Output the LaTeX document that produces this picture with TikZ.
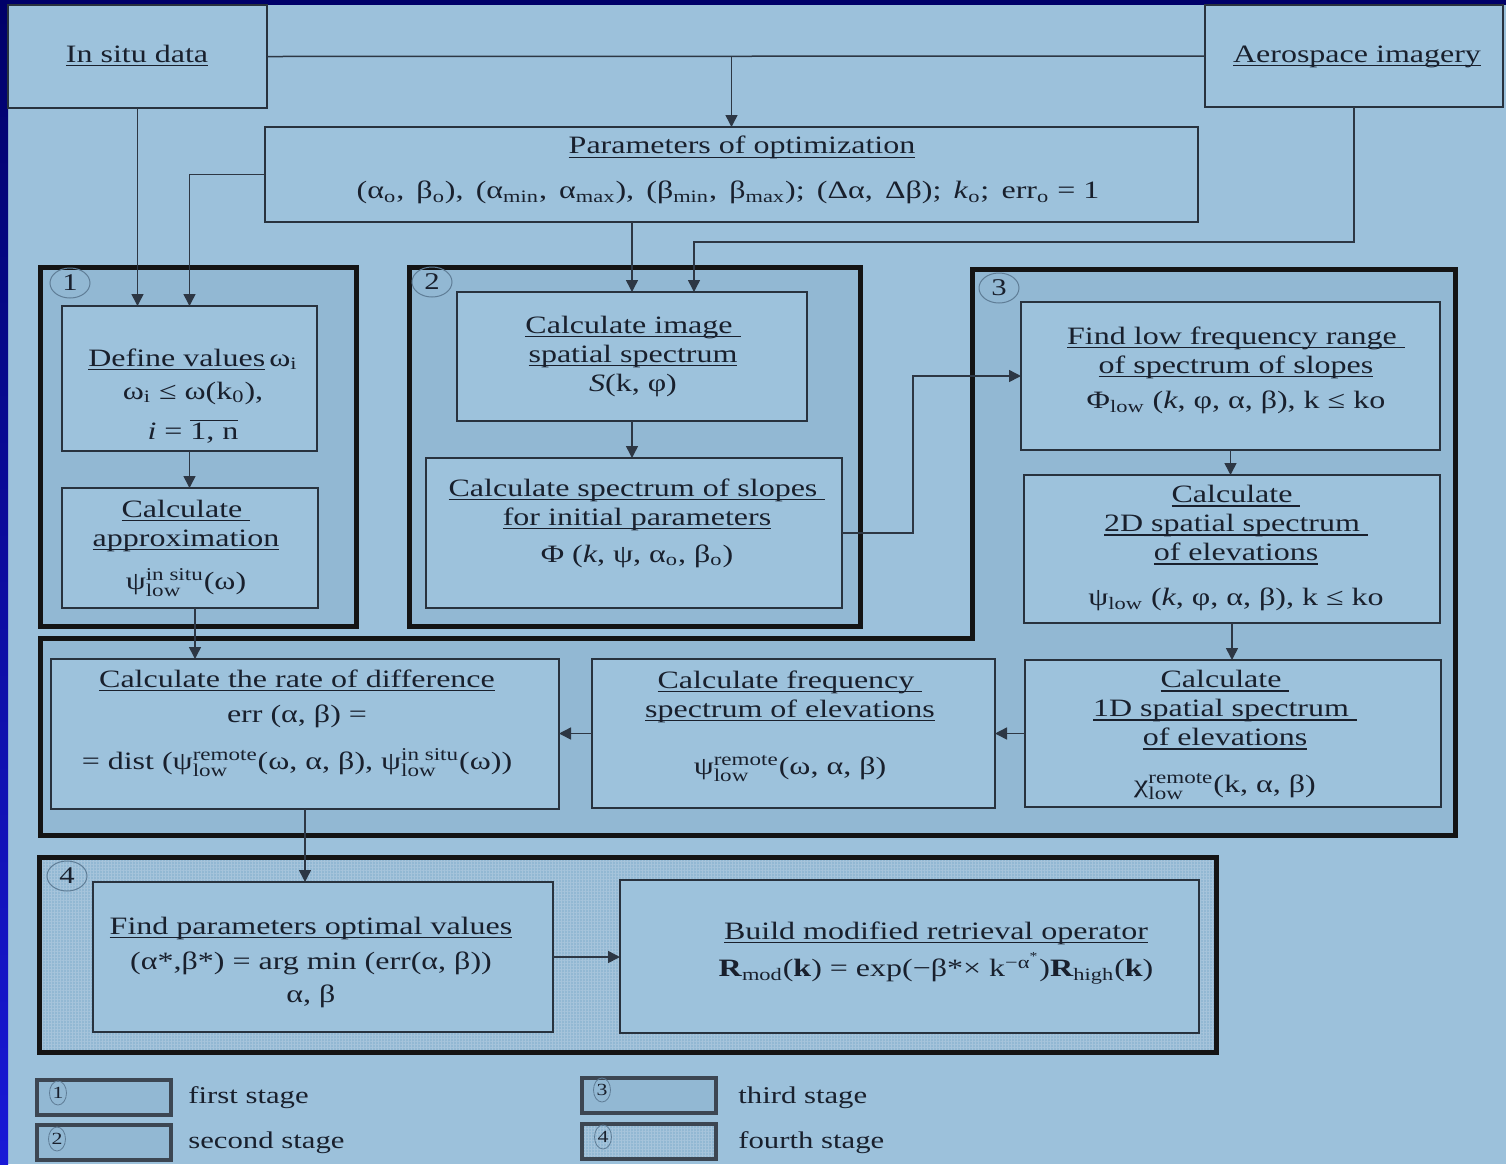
\documentclass[tikz,border=0pt]{standalone}
\usepackage{fontspec}
\setmainfont{Liberation Serif}[FakeStretch=1.28]
\usetikzlibrary{arrows.meta,shapes.geometric,patterns.meta}
\definecolor{bgblue}{RGB}{156,193,219}
\definecolor{stagefill}{RGB}{146,184,211}
\definecolor{boxfill}{RGB}{157,194,220}
\definecolor{boxline}{RGB}{40,50,62}
\definecolor{conncol}{RGB}{45,55,68}
\definecolor{txtcol}{RGB}{25,32,45}
\definecolor{navy}{RGB}{0,0,105}
\definecolor{brightblue}{RGB}{25,25,215}
\definecolor{circcol}{RGB}{95,125,150}
\definecolor{legline}{RGB}{60,70,82}
\definecolor{hatchcol}{RGB}{166,196,219}
\newcommand\SupSub[2]{$^{\hbox{\fontsize{9}{9}\selectfont #1}}_{\hbox{\fontsize{9}{9}\selectfont #2}}$}
\newcommand\sub[1]{\textsubscript{#1}}
\newcommand\UL[1]{\setbox0\hbox{#1}\rlap{\rule[-2pt]{\wd0}{0.55pt}}\box0}
\newcommand\BOX[6][]{\node[box,#1,minimum width={(#5-#3)*0.5pt},minimum height={(#6-#4)*0.5pt}] (#2) at ({(#3+#5)/2},{(#4+#6)/2}) {};}
\tikzset{
  box/.style={rectangle,draw=boxline,line width=0.7pt,fill=boxfill,inner sep=0pt,outer sep=0pt},
  stagebox/.style={draw=black!92,line width=2.5pt,fill=stagefill},
  txt/.style={text=txtcol,align=center,inner sep=0pt,font=\fontsize{12.5}{14.5}\selectfont},
  legtxt/.style={text=txtcol,inner sep=0pt,font=\fontsize{12}{14}\selectfont},
  connline/.style={draw=conncol,line width=0.75pt},
  arr/.style={connline,-{Triangle[length=6pt,width=6pt]}},
  stagelabel/.style={ellipse,draw=circcol,line width=0.5pt,minimum width=20pt,minimum height=15pt,inner sep=0pt,text=txtcol,font=\fontsize{12}{12}\selectfont},
  legbox/.style={draw=legline,line width=2pt,fill=stagefill},
  leglabel/.style={ellipse,draw=circcol,line width=0.4pt,minimum width=8.5pt,minimum height=12pt,inner sep=0pt,text=txtcol,font=\fontsize{8.5}{8.5}\selectfont},
}
\begin{document}
\begin{tikzpicture}[x=0.5pt,y=-0.5pt]
\useasboundingbox (0,0) rectangle (1506,1164);
% background
\fill[bgblue] (0,0) rectangle (1506,1164);
\fill[navy] (0,0) rectangle (1506,5);
\shade[top color=navy,middle color=brightblue!80!navy,bottom color=brightblue] (0,0) rectangle (8,1164);

% stage frames
\BOX[stagebox]{S1}{40}{267}{356}{626}
\BOX[stagebox]{S2}{409}{267}{860}{626}
\draw[stagebox] (972,269) -- (1455,269) -- (1455,835) -- (40,835) -- (40,638) -- (972,638) -- cycle;
\BOX[stagebox,preaction={fill=stagefill},pattern={Hatch[distance=1.5pt,line width=0.25pt]},pattern color=hatchcol]{S4}{39}{857}{1216}{1052}

\node[stagelabel] (L1) at (70,283) {1};
\node[stagelabel] (L2) at (432,282) {2};
\node[stagelabel] (L3) at (999,288) {3};
\node[stagelabel] (L4) at (67,876) {4};

% boxes
\BOX{insitu}{8}{5}{267}{108}
\BOX{aero}{1205}{5}{1503}{107}
\BOX{params}{265}{127}{1198}{222}
\BOX{define}{62}{306}{317}{451}
\BOX{approx}{62}{488}{318}{608}
\BOX{image}{457}{292}{807}{421}
\BOX{slopes}{426}{458}{842}{608}
\BOX{findlow}{1021}{302}{1440}{450}
\BOX{dtwo}{1024}{475}{1440}{623}
\BOX{done}{1025}{660}{1441}{807}
\BOX{freq}{592}{659}{995}{808}
\BOX{rate}{51}{659}{559}{809}
\BOX{fparams}{93}{882}{553}{1032}
\BOX{build}{620}{880}{1199}{1033}

% texts
\node[txt,anchor=base] (insitu-t) at (137,62) {\UL{In situ data}};
\node[txt,anchor=base] (aero-t) at (1357,62) {\UL{Aerospace imagery}};
\node[txt] (params-t) at (728,170) {\hspace{14pt}\UL{Parameters of optimization}\\[8pt]
  (α\sub{o},\, β\sub{o}),\, (α\sub{min},\, α\sub{max}),\, (β\sub{min},\, β\sub{max});\, (Δα,\, Δβ);\, \textit{k}\sub{o};\, err\sub{o} = 1};
\node[txt] (define-t) at (193,396) {\UL{Define values}\,ω\sub{i}\\[2pt]
  ω\sub{i} ≤ ω(k\sub{0}),\\[5.5pt] \textit{i} = $\overline{\hbox{1, n}}$};
\node[txt] (approx-t) at (186,548) {\UL{Calculate\ }\\ \UL{approximation}\\[7pt]
  ψ\SupSub{in situ}{low}(ω)};
\node[txt] (image-t) at (633,356) {\UL{Calculate image\ }\\ \UL{spatial spectrum}\\ \textit{S}(k, φ)};
\node[txt] (slopes-t) at (637,523) {\UL{Calculate spectrum of slopes\ }\\ \UL{for initial parameters}\\[4pt]
  Φ (\textit{k}, ψ, α\sub{o}, β\sub{o})};
\node[txt] (findlow-t) at (1236,370) {\UL{Find low frequency range\ }\\ \UL{of spectrum of slopes}\\[3pt]
  Φ\sub{low} (\textit{k}, φ, α, β), k ≤ ko};
\node[txt] (dtwo-t) at (1236,548) {\UL{Calculate\ }\\ \UL{2D spatial spectrum\ }\\ \UL{of elevations}\\[8pt]
  ψ\sub{low} (\textit{k}, φ, α, β), k ≤ ko};
\node[txt] (done-t) at (1225,735) {\UL{Calculate\ }\\ \UL{1D spatial spectrum\ }\\ \UL{of elevations}\\[9pt]
  χ\SupSub{remote}{low}(k, α, β)};
\node[txt] (freq-t) at (790,726) {\UL{Calculate frequency\ }\\ \UL{spectrum of elevations}\\[14pt]
  ψ\SupSub{remote}{low}(ω, α, β)};
\node[txt] (rate-t) at (297,723) {\UL{Calculate the rate of difference}\\[3pt]
  err (α, β) =\\[9pt]
  = dist (ψ\SupSub{remote}{low}(ω, α, β), ψ\SupSub{in situ}{low}(ω))};
\node[txt] (fparams-t) at (311,962) {\UL{Find parameters optimal values}\\[3pt]
  (α*,β*) = arg min (err(α, β))\\[2pt] α, β};
\node[txt] (build-t) at (936,953) {\UL{Build modified retrieval operator}\\[3pt]
  \textbf{R}\sub{mod}(\textbf{k}) = exp(−β*× k\textsuperscript{−α\textsuperscript{*}})\textbf{R}\sub{high}(\textbf{k})};

% connectors
\coordinate (aeroturn) at (694,242);
\coordinate (slopesturn) at (913,533);
\draw[connline] (insitu.east) -- (aero.west);
\draw[arr] (params.north |- insitu.east) -- (params.north);
\draw[arr] (insitu.south) -- (insitu.south |- define.north);
\draw[arr] (params.west) -| (define.north);
\draw[arr] (image.north |- params.south) -- (image.north);
\draw[arr] (aero.south) |- (aeroturn) -- (aeroturn |- image.north);
\draw[arr] (define.south) -- (define.south |- approx.north);
\draw[arr] (image.south) -- (image.south |- slopes.north);
\draw[arr] (slopes.east) -- (slopesturn) |- (findlow.west);
\draw[arr] (findlow.south) -- (findlow.south |- dtwo.north);
\draw[arr] (dtwo.south) -- (dtwo.south |- done.north);
\draw[arr] (done.west) -- (done.west -| freq.east);
\draw[arr] (freq.west) -- (freq.west -| rate.east);
\draw[arr] ([xshift=2.5pt]approx.south) -- ([xshift=2.5pt]approx.south |- rate.north);
\draw[arr] (rate.south) -- (rate.south |- fparams.north);
\draw[arr] (fparams.east) -- (fparams.east -| build.west);

% legend
\BOX[legbox]{LB1}{37}{1080}{171}{1115}
\BOX[legbox]{LB2}{37}{1125}{171}{1160}
\BOX[legbox]{LB3}{582}{1078}{716}{1113}
\BOX[legbox,preaction={fill=stagefill},pattern={Hatch[distance=1.5pt,line width=0.25pt]},pattern color=hatchcol]{LB4}{582}{1124}{716}{1159}
\node[leglabel] (LL1) at (58,1093) {1};
\node[leglabel] (LL2) at (57,1139) {2};
\node[leglabel] (LL3) at (602,1090) {3};
\node[leglabel] (LL4) at (603,1137) {4};
\node[legtxt,anchor=west] (LT1) at (188,1098) {first stage};
\node[legtxt,anchor=west] (LT2) at (188,1143) {second stage};
\node[legtxt,anchor=west] (LT3) at (738,1098) {third stage};
\node[legtxt,anchor=west] (LT4) at (738,1143) {fourth stage};
\end{tikzpicture}
\end{document}
